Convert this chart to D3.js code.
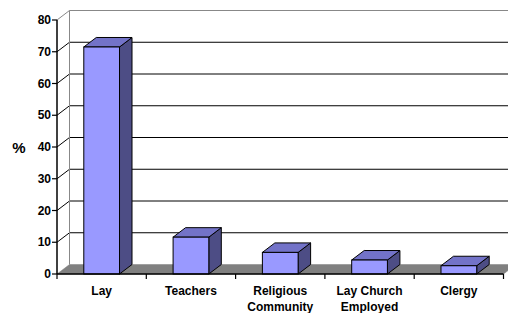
<!DOCTYPE html>
<html>
<head>
<meta charset="utf-8">
<script src="https://cdn.jsdelivr.net/npm/d3@7"></script>
<style>
	body { margin: 0; background: #fff; }
	text { font-family: Arial, "Liberation Sans", sans-serif; font-weight: bold; }
</style>
</head>
<body>
<div id="chart"></div>
<script>
// chart data
var categories = [["Lay"], ["Teachers"], ["Religious", "Community"], ["Lay Church", "Employed"], ["Clergy"]];
var values = [71.5, 11.6, 6.8, 4.4, 2.6];
var yTicks = [0, 10, 20, 30, 40, 50, 60, 70, 80];

var svgWidth = 508;
var svgHeight = 313;
var dx = 12.5, dy = -9.5; // depth offset for the 3d look

var svg = d3.select("#chart").append("svg")
	.attr("width", svgWidth)
	.attr("height", svgHeight);

var yScale = d3.scaleLinear().domain([0, 80]).range([274, 20]);
var xScale = d3.scaleBand()
	.domain(categories.map(function(c, i) { return i; }))
	.range([57, 503.5]);
var barW = xScale.bandwidth() * 0.4;

var x0 = xScale.range()[0], x1 = xScale.range()[1];

//back wall gridlines
yTicks.forEach(function(v) {
	if (v == 0) return;
	var y = yScale(v);
	svg.append("line")
		.attr("x1", x0 + dx).attr("x2", svgWidth + 10)
		.attr("y1", y + dy).attr("y2", y + dy)
		.attr("stroke", v == 80 ? "#888" : "#000")
		.attr("stroke-width", 1);
	//side wall line
	svg.append("line")
		.attr("x1", x0).attr("y1", y)
		.attr("x2", x0 + dx).attr("y2", y + dy)
		.attr("stroke", v == 80 ? "#888" : "#000");
});

//back wall left edge
svg.append("line")
	.attr("x1", x0 + dx).attr("x2", x0 + dx)
	.attr("y1", yScale(80) + dy).attr("y2", yScale(0) + dy)
	.attr("stroke", "#888");

//floor
svg.append("path")
	.attr("d", "M" + x0 + "," + yScale(0) + "L" + (x0 + dx) + "," + (yScale(0) + dy) +
		"L" + (x1 + dx) + "," + (yScale(0) + dy) + "L" + x1 + "," + yScale(0) + "Z")
	.attr("fill", "#808080")
	.attr("stroke", "#808080")
	.attr("stroke-width", 0.5);

//bars
var bars = svg.selectAll("g.bar")
	.data(values)
	.enter()
	.append("g")
	.attr("class", "bar");

bars.each(function(d, i) {
	var g = d3.select(this);
	var bx = xScale(i) + (xScale.bandwidth() - barW) / 2;
	var top = yScale(d), bot = yScale(0);
	//side
	g.append("path")
		.attr("d", "M" + (bx + barW) + "," + bot + "L" + (bx + barW + dx) + "," + (bot + dy) +
			"L" + (bx + barW + dx) + "," + (top + dy) + "L" + (bx + barW) + "," + top + "Z")
		.attr("fill", "#4d4d85")
		.attr("stroke", "#000")
		.attr("stroke-width", 1)
		.attr("stroke-linejoin", "round");
	//top
	g.append("path")
		.attr("d", "M" + bx + "," + top + "L" + (bx + dx) + "," + (top + dy) +
			"L" + (bx + barW + dx) + "," + (top + dy) + "L" + (bx + barW) + "," + top + "Z")
		.attr("fill", "#7373c8")
		.attr("stroke", "#000")
		.attr("stroke-width", 1)
		.attr("stroke-linejoin", "round");
	//front
	g.append("rect")
		.attr("x", bx).attr("y", top)
		.attr("width", barW).attr("height", bot - top)
		.attr("fill", "#9999ff")
		.attr("stroke", "#000")
		.attr("stroke-width", 1);
});

//y axis
var yAxis = svg.append("g");
yAxis.append("line")
	.attr("x1", x0).attr("x2", x0)
	.attr("y1", yScale(80)).attr("y2", yScale(0))
	.attr("stroke", "#000").attr("stroke-width", 1.5);
yTicks.forEach(function(v) {
	yAxis.append("line")
		.attr("x1", x0 - 5).attr("x2", x0)
		.attr("y1", yScale(v)).attr("y2", yScale(v))
		.attr("stroke", "#000").attr("stroke-width", 1.2);
	yAxis.append("text")
		.attr("x", x0 - 6).attr("y", yScale(v))
		.attr("dy", "0.35em")
		.attr("text-anchor", "end")
		.style("font-size", "12px")
		.text(v);
});

//x axis
var xAxis = svg.append("g");
xAxis.append("line")
	.attr("x1", x0).attr("x2", x1)
	.attr("y1", yScale(0)).attr("y2", yScale(0))
	.attr("stroke", "#000").attr("stroke-width", 1.5);
d3.range(categories.length + 1).forEach(function(i) {
	var x = x0 + i * xScale.step();
	xAxis.append("line")
		.attr("x1", x).attr("x2", x)
		.attr("y1", yScale(0)).attr("y2", yScale(0) + 5)
		.attr("stroke", "#000").attr("stroke-width", 1.2);
});
categories.forEach(function(c, i) {
	var t = xAxis.append("text")
		.attr("x", xScale(i) + xScale.bandwidth() / 2)
		.attr("y", 295)
		.attr("text-anchor", "middle")
		.style("font-size", "12px");
	c.forEach(function(line, j) {
		t.append("tspan")
			.attr("x", xScale(i) + xScale.bandwidth() / 2)
			.attr("dy", j == 0 ? 0 : 15.5)
			.text(line);
	});
});

//y label
svg.append("text")
	.attr("x", 19).attr("y", 153)
	.attr("text-anchor", "middle")
	.style("font-size", "15px")
	.text("%");
</script>
</body>
</html>
